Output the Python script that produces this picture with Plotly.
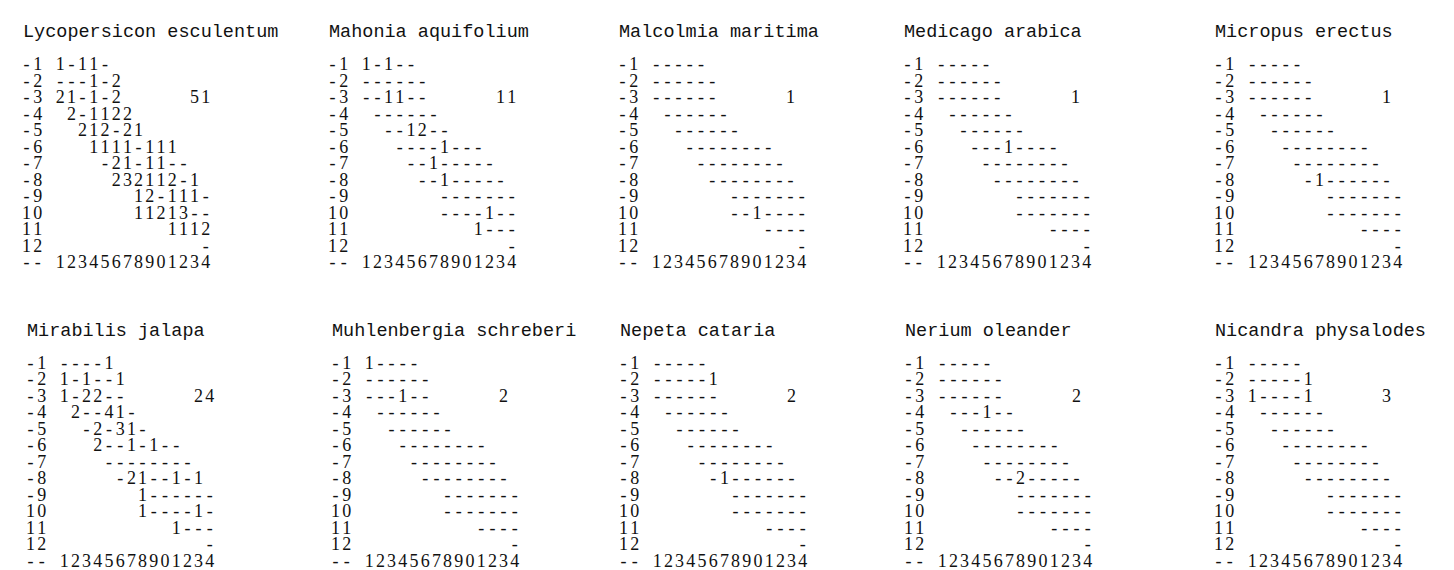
import plotly.graph_objects as go

# ---------------- data ----------------
species_names = [
    "Lycopersicon esculentum", "Mahonia aquifolium", "Malcolmia maritima",
    "Medicago arabica", "Micropus erectus",
    "Mirabilis jalapa", "Muhlenbergia schreberi", "Nepeta cataria",
    "Nerium oleander", "Nicandra physalodes",
]
row_labels = ["-1", "-2", "-3", "-4", "-5", "-6", "-7", "-8", "-9", "10", "11", "12"]
row_start_cols = [1, 1, 1, 2, 3, 4, 5, 6, 8, 8, 11, 14]
bottom_label = "--"
column_ticks = "12345678901234"
species_totals = ["51", "11", "1", "1", "1", "24", "2", "2", "2", "3"]
total_row_index = 2      # the "-3" line
total_col = 13

lycopersicon_esculentum = ["1-11-", "---1-2", "21-1-2", "2-1122", "212-21", "1111-111",
                           "-21-11--", "232112-1", "12-111-", "11213--", "1112", "-"]
mahonia_aquifolium = ["1-1--", "------", "--11--", "------", "--12--", "----1---",
                      "--1-----", "--1-----", "-------", "----1--", "1---", "-"]
malcolmia_maritima = ["-----", "------", "------", "------", "------", "--------",
                      "--------", "--------", "-------", "--1----", "----", "-"]
medicago_arabica = ["-----", "------", "------", "------", "------", "---1----",
                    "--------", "--------", "-------", "-------", "----", "-"]
micropus_erectus = ["-----", "------", "------", "------", "------", "--------",
                    "--------", "-1------", "-------", "-------", "----", "-"]
mirabilis_jalapa = ["----1", "1-1--1", "1-22--", "2--41-", "-2-31-", "2--1-1--",
                    "--------", "-21--1-1", "1------", "1----1-", "1---", "-"]
muhlenbergia_schreberi = ["1----", "------", "---1--", "------", "------", "--------",
                          "--------", "--------", "-------", "-------", "----", "-"]
nepeta_cataria = ["-----", "-----1", "------", "------", "------", "--------",
                  "--------", "-1------", "-------", "-------", "----", "-"]
nerium_oleander = ["-----", "------", "------", "---1--", "------", "--------",
                   "--------", "--2-----", "-------", "-------", "----", "-"]
nicandra_physalodes = ["-----", "-----1", "1----1", "------", "------", "--------",
                       "--------", "--------", "-------", "-------", "----", "-"]

panel_rows = [lycopersicon_esculentum, mahonia_aquifolium, malcolmia_maritima,
              medicago_arabica, micropus_erectus, mirabilis_jalapa,
              muhlenbergia_schreberi, nepeta_cataria, nerium_oleander,
              nicandra_physalodes]

# ---------------- layout ----------------
FIG_W, FIG_H = 1454, 570
COL_W = 11.2
LINE_H = 16.5
panel_left = [21, 327, 617, 902, 1213, 25, 330, 618, 903, 1213]   # px of left edge of label column
panel_top = [65.5] * 5 + [364] * 5                                 # px of centre of "-1" line
X_RANGE = [-3, 17]
Y_RANGE = [12.3, -2.5]
TITLE_LINE = -2.0

fig = go.Figure()
layout_axes = {}
annotations = []

for i, name in enumerate(species_names):
    xs, ys, ts = [], [], []

    def put(text, col0, k):
        for j, ch in enumerate(text):
            if ch != " ":
                xs.append(col0 + j)
                ys.append(k)
                ts.append(ch)

    for k, (lab, start, cells) in enumerate(zip(row_labels, row_start_cols, panel_rows[i])):
        put(lab, -2, k)
        put(cells, start, k)
    put(species_totals[i], total_col, total_row_index)
    put(bottom_label, -2, len(row_labels))
    put(column_ticks, 1, len(row_labels))

    suffix = "" if i == 0 else str(i + 1)
    fig.add_trace(go.Scatter(
        x=xs, y=ys, text=ts, mode="text", textposition="middle center",
        textfont=dict(family="Liberation Serif, serif", size=18, color="#111111"),
        xaxis="x" + suffix, yaxis="y" + suffix, cliponaxis=False,
        hoverinfo="skip", showlegend=False,
    ))

    left_px = panel_left[i] + (X_RANGE[0] + 2.5) * COL_W
    right_px = left_px + (X_RANGE[1] - X_RANGE[0]) * COL_W
    top_px = panel_top[i] + Y_RANGE[1] * LINE_H
    bot_px = panel_top[i] + Y_RANGE[0] * LINE_H
    layout_axes["xaxis" + suffix] = dict(
        domain=[left_px / FIG_W, right_px / FIG_W], range=X_RANGE,
        visible=False, fixedrange=True, anchor="y" + suffix)
    layout_axes["yaxis" + suffix] = dict(
        domain=[max(0, 1 - bot_px / FIG_H), min(1, 1 - top_px / FIG_H)], range=Y_RANGE,
        visible=False, fixedrange=True, anchor="x" + suffix)

    annotations.append(dict(
        text=name, x=-2.5, y=TITLE_LINE, xref="x" + suffix, yref="y" + suffix,
        xanchor="left", yanchor="middle", showarrow=False,
        font=dict(family="Liberation Mono", size=18.5, color="#111111"),
    ))

fig.update_layout(
    width=FIG_W, height=FIG_H,
    margin=dict(l=0, r=0, t=0, b=0),
    paper_bgcolor="white", plot_bgcolor="white",
    annotations=annotations,
    **layout_axes,
)

fig.write_html("out.html", config={"displayModeBar": False},
               post_script="document.body.style.margin='0';")
